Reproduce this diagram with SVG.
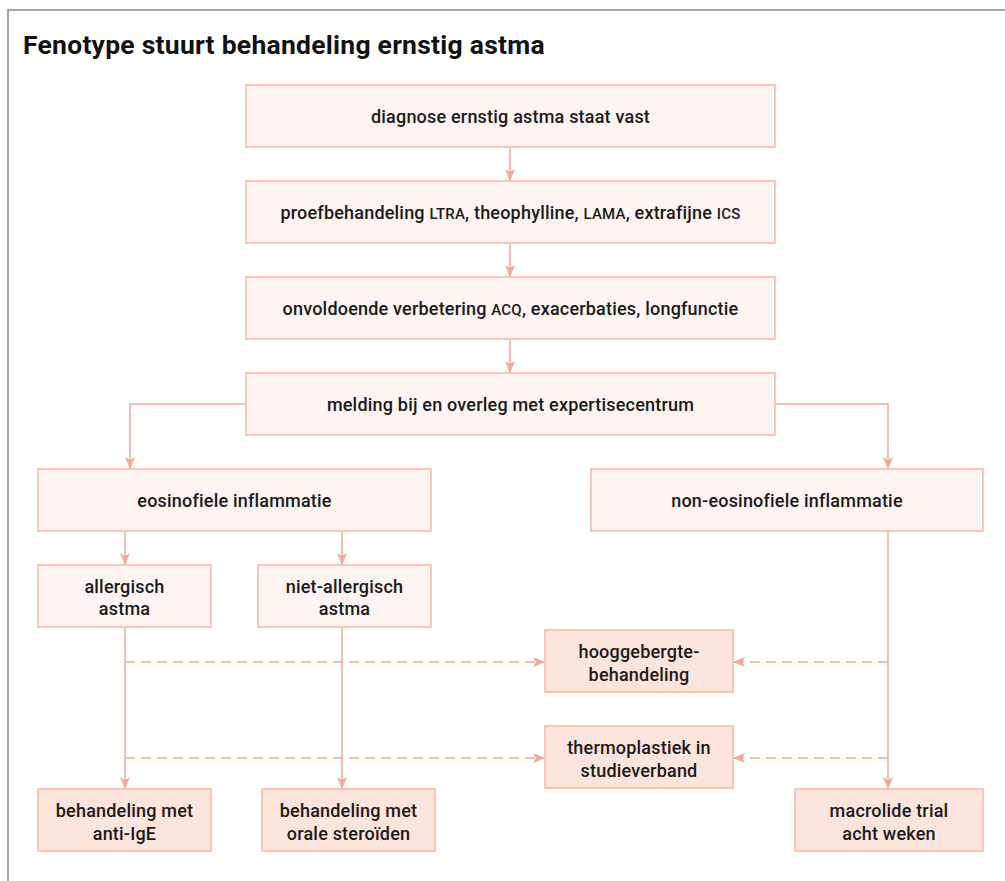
<svg xmlns="http://www.w3.org/2000/svg" width="1005" height="881" viewBox="0 0 1005 881">
<style>
  .frame{fill:none;stroke:#b3a195;stroke-width:2}
  .title{font-family:Roboto,"Liberation Sans",sans-serif;font-weight:bold;font-size:26.5px;fill:#111;letter-spacing:0.25px}
  .box{fill:#fef4f1;stroke:#f7b6a3;stroke-width:1.5}
  .box2{fill:#fde4dc;stroke:#f7b6a3;stroke-width:1.5}
  .t{font-family:Roboto,"Liberation Sans",sans-serif;font-weight:500;font-size:18px;fill:#1a1a1a;text-anchor:middle;letter-spacing:0.2px}
  .sc{font-size:15px}
  .ln{fill:none;stroke:#f5a893;stroke-width:1.5}
  .dash{stroke-dasharray:10 6}
</style>
<defs>
  <marker id="ah" viewBox="0 0 12 10" refX="12" refY="5" markerWidth="12" markerHeight="10" markerUnits="userSpaceOnUse" orient="auto">
    <path d="M0,0 L12,5 L0,10 L3,5 Z" fill="#f5a893"/>
  </marker>
</defs>
<rect x="0" y="0" width="1005" height="881" fill="#fff"/>
<path class="frame" d="M8,890 L8,10 L1010,10"/>
<text class="title" x="23" y="54">Fenotype stuurt behandeling ernstig astma</text>

<g id="connectors">
  <line class="ln" x1="510" y1="147" x2="510" y2="181" marker-end="url(#ah)"/>
  <line class="ln" x1="510" y1="243" x2="510" y2="277" marker-end="url(#ah)"/>
  <line class="ln" x1="510" y1="339" x2="510" y2="373" marker-end="url(#ah)"/>
  <path class="ln" d="M246,404 L130,404 L130,469" marker-end="url(#ah)"/>
  <path class="ln" d="M775,404 L888,404 L888,469" marker-end="url(#ah)"/>
  <line class="ln" x1="125" y1="531" x2="125" y2="565" marker-end="url(#ah)"/>
  <line class="ln" x1="342" y1="531" x2="342" y2="565" marker-end="url(#ah)"/>
  <line class="ln" x1="125" y1="627" x2="125" y2="789" marker-end="url(#ah)"/>
  <line class="ln" x1="342" y1="627" x2="342" y2="789" marker-end="url(#ah)"/>
  <line class="ln" x1="888" y1="531" x2="888" y2="789" marker-end="url(#ah)"/>
  <line class="ln dash" x1="125" y1="662" x2="545" y2="662" marker-end="url(#ah)"/>
  <line class="ln dash" x1="888" y1="662" x2="733" y2="662" marker-end="url(#ah)"/>
  <line class="ln dash" x1="125" y1="758" x2="545" y2="758" marker-end="url(#ah)"/>
  <line class="ln dash" x1="888" y1="758" x2="733" y2="758" marker-end="url(#ah)"/>
</g>

<g id="n-diagnose">
  <rect class="box" x="246" y="85" width="529" height="62"/>
  <text class="t" x="510.5" y="122.5">diagnose ernstig astma staat vast</text>
</g>
<g id="n-proef">
  <rect class="box" x="246" y="181" width="529" height="62"/>
  <text class="t" x="510.5" y="218.5">proefbehandeling <tspan class="sc">LTRA</tspan>, theophylline, <tspan class="sc">LAMA</tspan>, extrafijne <tspan class="sc">ICS</tspan></text>
</g>
<g id="n-onvoldoende">
  <rect class="box" x="246" y="277" width="529" height="62"/>
  <text class="t" x="510.5" y="314.5">onvoldoende verbetering <tspan class="sc">ACQ</tspan>, exacerbaties, longfunctie</text>
</g>
<g id="n-melding">
  <rect class="box" x="246" y="373" width="529" height="62"/>
  <text class="t" x="510.5" y="410.5">melding bij en overleg met expertisecentrum</text>
</g>
<g id="n-eos">
  <rect class="box" x="38" y="469" width="393" height="62"/>
  <text class="t" x="234.5" y="506.5">eosinofiele inflammatie</text>
</g>
<g id="n-noneos">
  <rect class="box" x="591" y="469" width="392" height="62"/>
  <text class="t" x="787" y="506.5">non-eosinofiele inflammatie</text>
</g>
<g id="n-allergisch">
  <rect class="box" x="38" y="565" width="173" height="62"/>
  <text class="t" x="124.5" y="593">allergisch</text>
  <text class="t" x="124.5" y="615">astma</text>
</g>
<g id="n-nietallergisch">
  <rect class="box" x="258" y="565" width="173" height="62"/>
  <text class="t" x="344.5" y="593">niet-allergisch</text>
  <text class="t" x="344.5" y="615">astma</text>
</g>
<g id="n-hooggebergte">
  <rect class="box2" x="545" y="630" width="188" height="62"/>
  <text class="t" x="639" y="658">hooggebergte-</text>
  <text class="t" x="639" y="681">behandeling</text>
</g>
<g id="n-thermo">
  <rect class="box2" x="545" y="726" width="188" height="62"/>
  <text class="t" x="639" y="754">thermoplastiek in</text>
  <text class="t" x="639" y="777">studieverband</text>
</g>
<g id="n-antiige">
  <rect class="box2" x="38" y="789" width="173" height="62"/>
  <text class="t" x="124.5" y="817">behandeling met</text>
  <text class="t" x="124.5" y="840">anti-IgE</text>
</g>
<g id="n-orale">
  <rect class="box2" x="262" y="789" width="173" height="62"/>
  <text class="t" x="348.5" y="817">behandeling met</text>
  <text class="t" x="348.5" y="840">orale steroïden</text>
</g>
<g id="n-macrolide">
  <rect class="box2" x="795" y="789" width="188" height="62"/>
  <text class="t" x="889" y="817">macrolide trial</text>
  <text class="t" x="889" y="840">acht weken</text>
</g>
</svg>
